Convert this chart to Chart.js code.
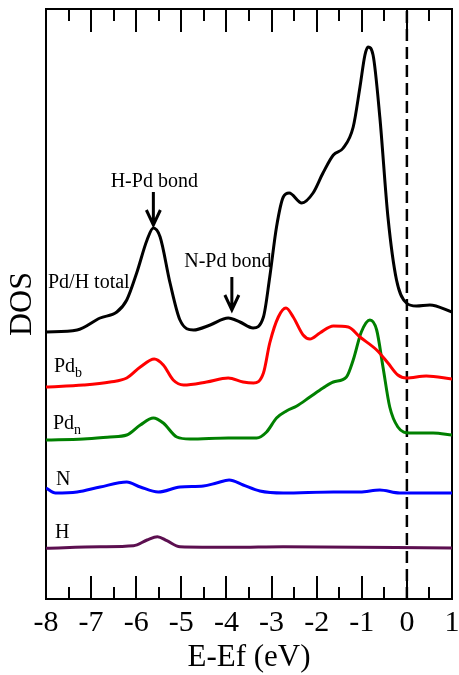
<!DOCTYPE html>
<html>
<head>
<meta charset="utf-8">
<script src="https://cdn.jsdelivr.net/npm/chart.js@4.4.1/dist/chart.umd.min.js"></script>
<style>
  html, body { margin: 0; padding: 0; background: #fff; overflow: hidden; }
  canvas { display: block; }
</style>
</head>
<body>
<canvas id="myChart" width="459" height="675"></canvas>
<script>
// Energy (eV) and stacked DOS values (arbitrary units, curves offset as in the figure)
const totalE = [-8.00, -7.31, -6.80, -6.43, -6.21, -5.99, -5.76, -5.62, -5.47, -5.25, -5.03, -4.73, -4.36, -3.96, -3.70, -3.41, -3.18, -3.04, -2.89, -2.74, -2.61, -2.33, -2.08, -1.86, -1.63, -1.41, -1.19, -1.04, -0.93, -0.86, -0.75, -0.60, -0.42, -0.23, -0.01, 0.21, 0.51, 1.00];
const totalDos = [26.7, 26.9, 28.1, 28.7, 29.9, 32.6, 35.9, 37.1, 36.2, 31.6, 27.9, 26.9, 27.4, 28.1, 27.7, 27.1, 28.2, 32.2, 37.2, 40.2, 40.6, 39.6, 40.6, 42.6, 44.4, 45.1, 47.2, 51.2, 54.4, 55.2, 54.4, 48.2, 38.2, 31.9, 29.6, 29.3, 29.4, 28.7];

const pdbE = [-8.00, -7.17, -6.58, -6.21, -5.91, -5.60, -5.40, -5.18, -4.95, -4.44, -3.96, -3.63, -3.40, -3.18, -3.04, -2.85, -2.68, -2.52, -2.30, -2.15, -1.93, -1.63, -1.30, -1.04, -0.67, -0.42, -0.20, -0.01, 0.43, 1.00];
const pdbDos = [21.2, 21.4, 21.7, 22.1, 23.2, 24.0, 23.4, 21.9, 21.4, 21.7, 22.1, 21.7, 21.6, 22.6, 25.6, 28.2, 29.1, 28.2, 26.4, 26.0, 26.6, 27.3, 27.2, 26.2, 24.9, 23.6, 22.4, 22.1, 22.3, 22.0];

const pdnE = [-8.00, -7.17, -6.58, -6.21, -5.91, -5.62, -5.40, -5.10, -4.81, -3.96, -3.33, -3.11, -2.89, -2.67, -2.44, -2.15, -1.86, -1.63, -1.34, -1.19, -1.01, -0.82, -0.67, -0.53, -0.38, -0.20, 0.06, 0.58, 1.00];
const pdnDos = [15.9, 16.0, 16.2, 16.4, 17.4, 18.1, 17.6, 16.2, 16.0, 16.1, 16.1, 16.7, 18.1, 18.8, 19.3, 20.2, 21.1, 21.7, 22.2, 23.9, 26.7, 27.9, 26.9, 23.2, 19.2, 17.2, 16.6, 16.6, 16.4];

const nE = [-8.00, -7.79, -7.31, -6.80, -6.21, -5.91, -5.51, -5.03, -4.51, -4.22, -3.94, -3.63, -3.26, -2.74, -1.63, -1.04, -0.60, -0.16, 1.00];
const nDos = [11.1, 10.6, 10.7, 11.2, 11.7, 11.2, 10.7, 11.2, 11.3, 11.6, 11.9, 11.4, 10.8, 10.6, 10.7, 10.7, 10.9, 10.6, 10.6];

const hE = [-8.00, -6.80, -6.06, -5.76, -5.53, -5.32, -5.03, -3.85, -2.74, 1.00];
const hDos = [5.07, 5.23, 5.33, 5.9, 6.23, 5.83, 5.23, 5.17, 5.23, 5.1];

// Fermi level marker
const fermiE = [0, 0];
const fermiDos = [0, 59];

const xTicks = [-8, -7, -6, -5, -4, -3, -2, -1, 0, 1];
const minorTicks = [-7.5, -6.5, -5.5, -4.5, -3.5, -2.5, -1.5, -0.5, 0.5];

function pts(xs, ys) {
  return xs.map((x, i) => ({ x: x, y: ys[i] }));
}

function curve(label, xs, ys, color) {
  return {
    label: label,
    data: pts(xs, ys),
    borderColor: color,
    borderWidth: 3,
    pointRadius: 0,
    fill: false,
    cubicInterpolationMode: 'monotone'
  };
}

const serif = '"Liberation Serif", "Times New Roman", serif';

// an x axis used only for its border line and inward tick marks
function tickAxis(position, values, len, withBorder) {
  return {
    type: 'linear',
    position: position,
    min: -8,
    max: 1,
    weight: 0,
    afterBuildTicks: (s) => { s.ticks = values.map(v => ({ value: v })); },
    afterFit: (s) => { s.height = 0; s.paddingLeft = 0; s.paddingRight = 0; },
    ticks: { display: false },
    grid: { display: true, drawOnChartArea: false, drawTicks: true, tickLength: -len, color: '#000', lineWidth: 2 },
    border: { display: withBorder, color: '#000', width: 2 }
  };
}

// a y axis used only for its border line
function sideAxis(position) {
  return {
    type: 'linear',
    position: position,
    min: 0,
    max: 59,
    afterFit: (s) => { s.width = 0; },
    ticks: { display: false },
    grid: { display: false },
    border: { display: true, color: '#000', width: 2 }
  };
}

// curve names, bond annotations and the DOS title
const labels = {
  id: 'labels',
  afterDraw(chart) {
    const c = chart.ctx, a = chart.chartArea;
    const sx = chart.scales.x, sy = chart.scales.y;
    c.save();
    c.setLineDash([]);
    c.fillStyle = '#000';
    c.strokeStyle = '#000';
    c.textBaseline = 'alphabetic';
    c.textAlign = 'left';
    c.font = '20px ' + serif;
    c.fillText('Pd/H total', a.left + 2, sy.getPixelForValue(31.1));

    const sub = (main, s, x, y) => {
      c.font = '20px ' + serif;
      c.fillText(main, x, y);
      const w = c.measureText(main).width;
      c.font = '14px ' + serif;
      c.fillText(s, x + w, y + 5);
    };
    sub('Pd', 'b', a.left + 8, sy.getPixelForValue(22.7));
    sub('Pd', 'n', a.left + 7, sy.getPixelForValue(17.0));
    c.font = '20px ' + serif;
    c.fillText('N', a.left + 10, sy.getPixelForValue(11.4));
    c.fillText('H', a.left + 9, sy.getPixelForValue(6.1));

    c.textAlign = 'center';
    c.fillText('H-Pd bond', sx.getPixelForValue(-5.6), sy.getPixelForValue(41.2));
    c.fillText('N-Pd bond', sx.getPixelForValue(-3.97), sy.getPixelForValue(33.2));

    const arrow = (e, yTop, yTip) => {
      const px = sx.getPixelForValue(e);
      const t = sy.getPixelForValue(yTop);
      const p = sy.getPixelForValue(yTip);
      c.lineWidth = 3;
      c.beginPath();
      c.moveTo(px, t);
      c.lineTo(px, p - 2);
      c.moveTo(px - 7, p - 15);
      c.lineTo(px, p);
      c.lineTo(px + 7, p - 15);
      c.stroke();
    };
    arrow(-5.62, 40.7, 37.4);
    arrow(-3.88, 32.2, 28.9);

    c.translate(23, (a.top + a.bottom) / 2);
    c.rotate(-Math.PI / 2);
    c.textBaseline = 'middle';
    c.font = '32px ' + serif;
    c.fillText('DOS', 0, 0);
    c.restore();
  }
};

const myChart = new Chart(document.getElementById('myChart').getContext('2d'), {
  type: 'line',
  data: {
    datasets: [
      curve('Pd/H total', totalE, totalDos, '#000000'),
      curve('Pdb', pdbE, pdbDos, '#ff0000'),
      curve('Pdn', pdnE, pdnDos, '#008000'),
      curve('N', nE, nDos, '#0000ff'),
      curve('H', hE, hDos, '#5c0f50'),
      {
        label: 'Ef',
        data: pts(fermiE, fermiDos),
        borderColor: '#000',
        borderWidth: 2.5,
        borderDash: [12, 6],
        pointRadius: 0
      }
    ]
  },
  options: {
    responsive: false,
    animation: false,
    layout: { padding: { left: 46, right: 7, top: 9, bottom: 0 } },
    plugins: { legend: { display: false }, tooltip: { enabled: false } },
    scales: {
      x: {
        type: 'linear',
        position: 'bottom',
        weight: 1,
        min: -8,
        max: 1,
        afterBuildTicks: (s) => { s.ticks = xTicks.map(v => ({ value: v })); },
        afterFit: (s) => { s.height = 76; s.paddingLeft = 0; s.paddingRight = 0; },
        grid: { display: true, drawOnChartArea: false, drawTicks: true, tickLength: -23, color: '#000', lineWidth: 2 },
        border: { display: true, color: '#000', width: 2 },
        ticks: {
          color: '#000',
          padding: 32,
          maxRotation: 0,
          font: { family: serif, size: 30, lineHeight: 1 }
        },
        title: {
          display: true,
          text: 'E-Ef (eV)',
          color: '#000',
          padding: { top: 4, bottom: 1.5 },
          font: { family: serif, size: 31, lineHeight: 1 }
        }
      },
      xMinorBottom: tickAxis('bottom', minorTicks, 12, false),
      xTop: tickAxis('top', xTicks, 23, true),
      xMinorTop: tickAxis('top', minorTicks, 12, false),
      y: Object.assign(sideAxis('left'), {}),
      yRight: sideAxis('right')
    }
  },
  plugins: [labels]
});
</script>
</body>
</html>
